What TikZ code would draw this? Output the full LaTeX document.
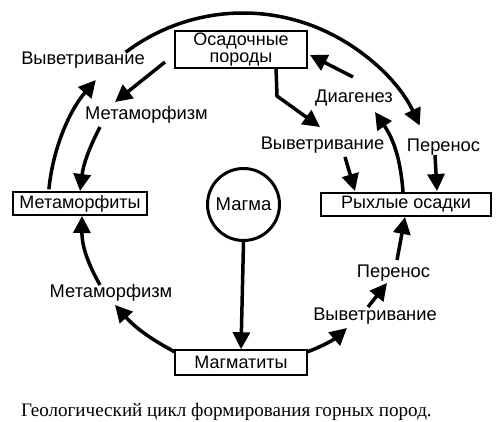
\documentclass[tikz,border=0pt]{standalone}
\usepackage{fontspec}
\setmainfont{Liberation Serif}
\newfontfamily\labfont{Liberation Sans}
\usetikzlibrary{arrows.meta}
\begin{document}
\begin{tikzpicture}[x=1pt,y=-1pt,
  arr/.style={line width=3.5pt,-{Triangle[length=17pt,width=17pt]}},
  box/.style={draw,line width=1.6pt,inner sep=0pt,font=\labfont\fontsize{18}{16.5}\selectfont,align=center},
  lab/.style={font=\labfont\fontsize{18.3}{18}\selectfont,anchor=base,inner sep=0pt}]
\useasboundingbox (0,0) rectangle (500,422);
% boxes
\node[box,minimum width=132pt,minimum height=37pt] (osad) at (241,49.5) {Осадочные\\породы};
\node[box,minimum width=134pt,minimum height=23pt] (meta) at (80,203.5) {Метаморфиты};
\node[box,minimum width=170pt,minimum height=23pt] (ryh) at (406,204.5) {Рыхлые осадки};
\node[box,minimum width=132pt,minimum height=25pt] (magm) at (241,362.5) {Магматиты};
\node[draw,circle,line width=3pt,minimum size=72pt,inner sep=0pt,font=\labfont\fontsize{18.5}{18}\selectfont] (magma) at (243.5,204.5) {Магма};
% labels
\node[lab] (l1) at (83,65) {Выветривание};
\node[lab] (l2) at (443.5,152) {Перенос};
\node[lab] (l3) at (146.5,120) {Метаморфизм};
\node[lab] (l4) at (111,297) {Метаморфизм};
\node[lab] (l5) at (375,320) {Выветривание};
\node[lab] (l6) at (393.5,277) {Перенос};
\node[lab] (l7) at (322.5,150) {Выветривание};
\node[lab] (l8) at (354,103) {Диагенез};
% caption
\node[anchor=base west,inner sep=0pt,font=\fontsize{19.1}{20}\selectfont] (cap) at (21,416) {Геологический цикл формирования горных пород.};
% coordinates
\coordinate (cc) at (243,208);
\coordinate (a3s) at (435,155);
\coordinate (a3e) at (437,191);
\coordinate (a4s) at (165,62);
\coordinate (a4e) at (115,102);
\coordinate (a5s) at (100,127);
\coordinate (a5e) at (80,191);
\coordinate (a6s) at (100,285);
\coordinate (a6e) at (82,216);
\coordinate (a7s) at (175,352);
\coordinate (a7e) at (115,305);
\coordinate (a8s) at (307,352);
\coordinate (a8e) at (347,328);
\coordinate (a9s) at (368,307);
\coordinate (a9e) at (387,283);
\coordinate (a10s) at (397,260);
\coordinate (a10e) at (405,217);
\coordinate (a11s) at (276,68);
\coordinate (a11m) at (277,96);
\coordinate (a11e) at (320,127);
\coordinate (a12s) at (345,157);
\coordinate (a12e) at (355,191);
\coordinate (a13s) at (353,77);
\coordinate (a13e) at (310,55);
\coordinate (a14s) at (403,192);
\coordinate (a14e) at (375,112);
% big arc
\draw[arr] ([shift={(174.5:195pt)}]cc) arc[start angle=174.5,end angle=139,radius=195pt];
\draw[arr] ([shift={(127:195pt)}]cc) arc[start angle=127,end angle=25,radius=195pt];
% arrows
\draw[arr] (a3s) -- (a3e);
\draw[arr] (a4s) -- (a4e);
\draw[arr] (a5s) to[bend right=10] (a5e);
\draw[arr] (a6s) to[bend left=15] (a6e);
\draw[arr] (a7s) to[bend left=10] (a7e);
\draw[arr] (a8s) to[bend right=10] (a8e);
\draw[arr] (a9s) -- (a9e);
\draw[arr] (a10s) -- (a10e);
\draw[arr,line join=miter] (a11s) -- (a11m) -- (a11e);
\draw[arr] (a12s) -- (a12e);
\draw[arr] (a13s) -- (a13e);
\draw[arr] (a14s) to[bend right=15] (a14e);
\draw[arr] (magma.south) -- (magm.north);
\end{tikzpicture}
\end{document}
